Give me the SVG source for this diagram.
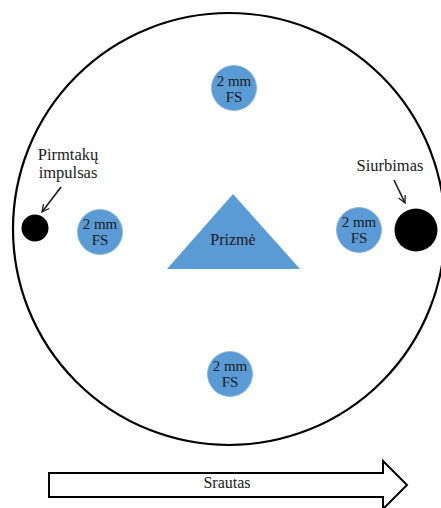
<svg xmlns="http://www.w3.org/2000/svg" width="441" height="508" viewBox="0 0 441 508">
<style>
.t{font-family:"Liberation Serif","Times New Roman",serif;fill:#1a1a1a;text-anchor:middle}
.fs{font-size:15px}
.blue{fill:#5b9bd5;stroke:#7fb0dd;stroke-width:0.8}
.ln{stroke:#1a1a1a;stroke-width:1.6;fill:none}
</style>
<defs>
<marker id="ah" viewBox="0 0 10 10" refX="9" refY="5" markerWidth="9" markerHeight="9" markerUnits="userSpaceOnUse" orient="auto">
<path d="M1,1 L9,5 L1,9" fill="none" stroke="#1a1a1a" stroke-width="1.4"/>
</marker>
</defs>
<rect width="441" height="508" fill="#fff"/>
<g id="outer"><circle cx="229" cy="229" r="216" fill="none" stroke="#000" stroke-width="2.2"/></g>
<g id="fs-top"><circle class="blue" cx="234" cy="88" r="22.5"/><text class="t fs" x="234" y="86">2 mm</text><text class="t fs" x="234" y="102">FS</text></g>
<g id="fs-left"><circle class="blue" cx="100" cy="232" r="22.5"/><text class="t fs" x="100" y="229">2 mm</text><text class="t fs" x="100" y="245">FS</text></g>
<g id="fs-right"><circle class="blue" cx="359" cy="230" r="22.5"/><text class="t fs" x="359" y="227">2 mm</text><text class="t fs" x="359" y="243">FS</text></g>
<g id="fs-bottom"><circle class="blue" cx="230" cy="374" r="22.5"/><text class="t fs" x="230" y="371">2 mm</text><text class="t fs" x="230" y="387">FS</text></g>
<g id="prism"><polygon points="233,194 300,269 167,269" fill="#5b9bd5"/><text class="t" x="233" y="245" font-size="16">Prizmė</text></g>
<g id="inlet"><circle cx="35" cy="228" r="13.5" fill="#000"/></g>
<g id="outlet"><circle cx="416" cy="230" r="21.5" fill="#000"/></g>
<g id="label-inlet"><text class="t" x="68" y="160" font-size="16.5">Pirmtakų</text><text class="t" x="68" y="178" font-size="16.5">impulsas</text></g>
<g id="label-outlet"><text class="t" x="390" y="171" font-size="16.5">Siurbimas</text></g>
<g id="connectors">
<line class="ln" x1="61" y1="187" x2="42" y2="212" marker-end="url(#ah)"/>
<line class="ln" x1="394" y1="180" x2="405" y2="203" marker-end="url(#ah)"/>
</g>
<g id="flow"><polygon points="49,473 383,473 383,461 407,485 383,509 383,497 49,497" fill="#fff" stroke="#000" stroke-width="2"/><text class="t" x="227" y="488" font-size="16">Srautas</text></g>
</svg>
